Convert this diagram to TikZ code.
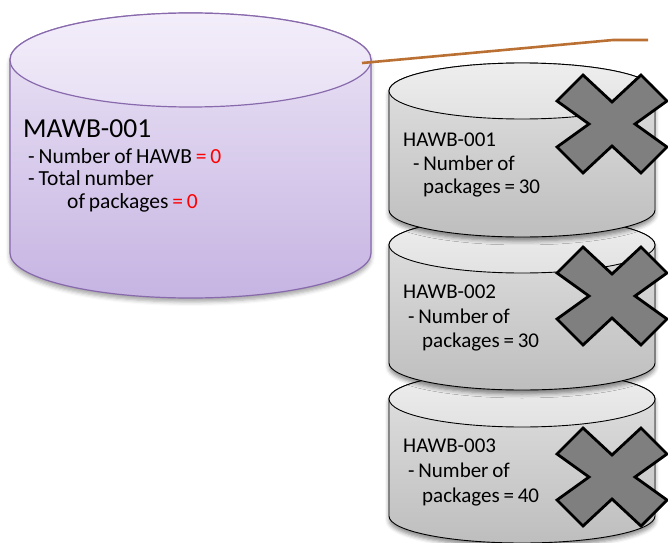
\documentclass[tikz,border=0pt]{standalone}
\usepackage{fontspec}
\setmainfont{Carlito}
\usetikzlibrary{shadows.blur}
\definecolor{purpleline}{RGB}{135,105,172}
\definecolor{purtop}{RGB}{243,238,250}
\definecolor{purbot}{RGB}{198,180,226}
\definecolor{brownline}{RGB}{186,112,50}
\definecolor{crossgray}{RGB}{127,127,127}
\definecolor{gtop}{RGB}{238,238,238}
\definecolor{gmid}{RGB}{226,226,226}
\definecolor{gbot}{RGB}{190,190,190}
\definecolor{redval}{RGB}{255,0,0}
\newcommand\tightsp{\spaceskip=0.18em plus 0.05em\relax}
\newcommand\mycross[2]{%
  \draw[crossstyle] (#1,#2) ++(-55,23) -- ++(26,26) -- ++(29,-27) -- ++(29,27)
    -- ++(26,-26) -- ++(-32,-23) -- ++(32,-23) -- ++(-26,-26) -- ++(-29,27)
    -- ++(-29,-27) -- ++(-26,26) -- ++(32,23) -- cycle;}
\begin{document}
\begin{tikzpicture}[x=1pt,y=1pt,
  mawbbody/.style={draw=purpleline, line width=1.2pt, top color=purtop!85!purbot, bottom color=purbot,
    blur shadow={shadow xshift=0pt, shadow yshift=-4pt, shadow blur radius=4pt, shadow opacity=35}},
  mawbtop/.style={draw=purpleline, line width=1.2pt, top color=purtop, bottom color=purtop!75!purbot},
  hawbbody/.style={draw=black, line width=0.9pt, top color=gmid, bottom color=gbot,
    blur shadow={shadow xshift=0pt, shadow yshift=-4pt, shadow blur radius=4pt, shadow opacity=45}},
  hawbtop/.style={draw=black, line width=0.9pt, top color=gtop, bottom color=gmid},
  crossstyle/.style={draw=black, line width=2.8pt, fill=crossgray, line join=miter},
  connector/.style={draw=brownline, line width=2.6pt},
  titletext/.style={anchor=base west, inner sep=0pt, font=\fontsize{27.5}{30}\selectfont},
  bodytext/.style={anchor=base west, inner sep=0pt, font=\fontsize{21.5}{24}\selectfont\tightsp},
  htext/.style={anchor=base west, inner sep=0pt, font=\fontsize{21}{23}\selectfont\tightsp}]
\useasboundingbox (0,0) rectangle (668,542);

% ---- MAWB cylinder ----
\path[mawbbody] (10,482) -- (10,289) arc[start angle=180, end angle=360, x radius=180.5, y radius=45]
  -- (371,482) arc[start angle=0, end angle=180, x radius=180.5, y radius=47] -- cycle;
\path[mawbtop] (190.5,482) ellipse[x radius=180.5, y radius=47];

\node[titletext] (mtitle) at (23,405) {MAWB-001};
\node[bodytext] (mline1) at (28,379) {- Number of HAWB \textcolor{redval}{= 0}};
\node[bodytext] (mline2) at (28,357) {- Total number};
\node[bodytext] (mline3) at (67,334) {of packages \textcolor{redval}{= 0}};

% ---- HAWB-003 ----
\path[hawbbody] (389,143) -- (389,26) arc[start angle=180, end angle=360, x radius=133, y radius=27]
  -- (655,143) arc[start angle=0, end angle=180, x radius=133, y radius=28] -- cycle;
\path[hawbtop] (522,143) ellipse[x radius=133, y radius=28];
\node[htext] (h3a) at (403,90) {HAWB-003};
\node[htext] (h3b) at (408,65) {- Number of};
\node[htext] (h3c) at (422,40) {packages = 40};

% ---- HAWB-002 ----
\path[hawbbody] (389,297) -- (389,179) arc[start angle=180, end angle=360, x radius=133, y radius=27]
  -- (655,297) arc[start angle=0, end angle=180, x radius=133, y radius=28] -- cycle;
\path[hawbtop] (522,297) ellipse[x radius=133, y radius=28];
\node[htext] (h2a) at (403,244) {HAWB-002};
\node[htext] (h2b) at (408,219) {- Number of};
\node[htext] (h2c) at (422,195) {packages = 30};

% ---- HAWB-001 ----
\path[hawbbody] (389,451) -- (389,332) arc[start angle=180, end angle=360, x radius=133, y radius=27]
  -- (655,451) arc[start angle=0, end angle=180, x radius=133, y radius=28] -- cycle;
\path[hawbtop] (522,451) ellipse[x radius=133, y radius=28];
\node[htext] (h1a) at (403,396) {HAWB-001};
\node[htext] (h1b) at (413,372) {- Number of};
\node[htext] (h1c) at (423,349) {packages = 30};

% ---- connector ----
\coordinate (mawbedge) at (362,479);
\coordinate (bend) at (613,502);
\coordinate (tail) at (648,502);
\draw[connector] (mawbedge) -- (bend) -- (tail);

% ---- crosses ----
\mycross{612}{418}
\mycross{612}{246}
\mycross{612}{65}
\end{tikzpicture}
\end{document}
